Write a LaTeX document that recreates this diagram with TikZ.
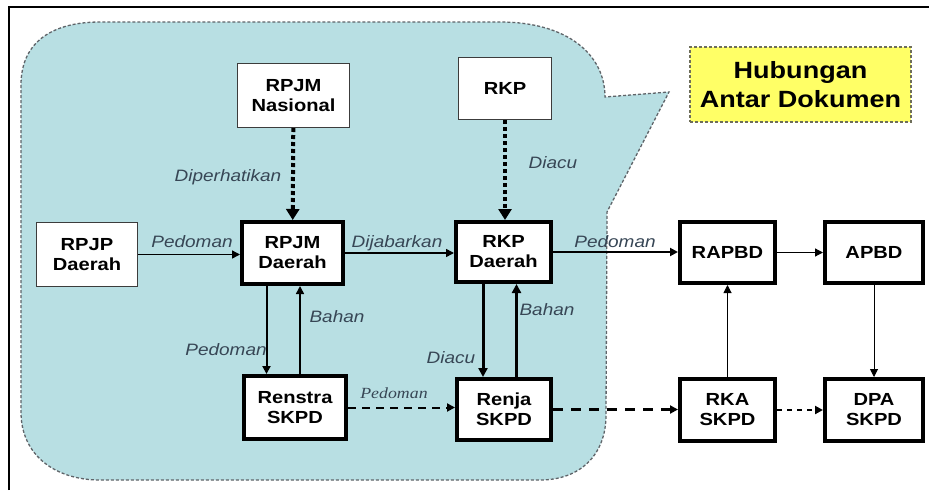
\documentclass[tikz,border=0pt]{standalone}
\usepackage{fontspec}
\setmainfont{Liberation Sans}[FakeStretch=1.15]
\newfontface\serifit{Liberation Serif Italic}[FakeStretch=1.15]
\usetikzlibrary{arrows.meta}
\definecolor{calloutfill}{RGB}{184,223,227}
\definecolor{calloutline}{RGB}{95,100,105}
\definecolor{hubfill}{RGB}{255,255,102}
\definecolor{labelcol}{RGB}{55,70,85}
\definecolor{thinline}{RGB}{60,60,60}
\tikzset{
  box/.style={draw, fill=white, align=center, inner sep=0pt,
    font=\bfseries\fontsize{17.5}{20}\selectfont},
  thinbox/.style={box, draw=thinline, line width=1pt},
  thickbox/.style={box, line width=4pt},
  lbl/.style={anchor=base, inner sep=0pt, text=labelcol,
    font=\itshape\fontsize{16.5}{19}\selectfont},
  dotarrow/.style={line width=4pt, dash pattern=on 4pt off 3pt,
    -{Triangle[length=11pt,width=13pt]}},
  tipA/.style={-{Triangle[length=8pt,width=8pt]}},
  tipB/.style={-{Triangle[length=9pt,width=9pt]}},
}
\begin{document}
\begin{tikzpicture}[x=1pt,y=-1pt]
\useasboundingbox (0,0) rectangle (929,490);
\fill[white] (0,0) rectangle (929,490);
% outer frame
\draw[line width=2.5pt] (9,490) -- (9,7) -- (929,7);
% callout
\draw[calloutline, line width=1.3pt, dash pattern=on 3pt off 2pt, fill=calloutfill]
  (21,85) -- (21,412) .. controls (21,455) and (55,480) .. (100,480)
  -- (540,480) .. controls (580,480) and (606,455) .. (606,415)
  -- (607,212) -- (669,92) -- (605,97)
  .. controls (605,55) and (568,22) .. (500,22)
  -- (100,22) .. controls (55,22) and (21,40) .. (21,85) -- cycle;
% title box
\node[draw={rgb,255:red,110;green,110;blue,90}, line width=1.5pt, dash pattern=on 3pt off 2pt,
  fill=hubfill, minimum width=221pt, minimum height=75pt, inner sep=0pt, align=center,
  font=\bfseries\fontsize{23.5}{29}\selectfont] (hub) at (800.5,84.5) {Hubungan\\Antar Dokumen};
% boxes
\node[thinbox, minimum width=112pt, minimum height=64pt] (rpjmn) at (293.5,95.5) {RPJM\\Nasional};
\node[thinbox, minimum width=93pt, minimum height=62pt] (rkp) at (505,88.5) {RKP};
\node[thinbox, minimum width=101pt, minimum height=64pt] (rpjp) at (87,254.5) {RPJP\\Daerah};
\node[thickbox, minimum width=101pt, minimum height=62pt] (rpjmd) at (292.5,253) {RPJM\\Daerah};
\node[thickbox, minimum width=95pt, minimum height=60pt] (rkpd) at (503.5,252) {RKP\\Daerah};
\node[thickbox, minimum width=95pt, minimum height=61pt] (rapbd) at (727.5,252.5) {RAPBD};
\node[thickbox, minimum width=98pt, minimum height=61pt] (apbd) at (874,252.5) {APBD};
\node[thickbox, minimum width=102pt, minimum height=63pt] (renstra) at (295,407.5) {Renstra\\SKPD};
\node[thickbox, minimum width=94pt, minimum height=61pt] (renja) at (504,409.5) {Renja\\SKPD};
\node[thickbox, minimum width=95pt, minimum height=62pt] (rka) at (727.5,410) {RKA\\SKPD};
\node[thickbox, minimum width=98pt, minimum height=62pt] (dpa) at (874,410) {DPA\\SKPD};
% dotted arrows
\draw[dotarrow] (rpjmn) -- (rpjmd);
\draw[dotarrow] (rkp) -- (rkp |- rkpd.north);
% horizontal solid arrows
\draw[line width=1.5pt, tipA] (rpjp.east) -- (rpjp.east -| rpjmd.west);
\draw[line width=1.5pt, tipA] (rpjmd.east) -- (rpjmd.east -| rkpd.west);
\draw[line width=2pt, tipA] (rkpd.east) -- (rkpd.east -| rapbd.west);
\draw[line width=1.2pt, tipA] (rapbd) -- (apbd);
% vertical arrows
\draw[line width=2pt, tipA] ([xshift=-26pt]rpjmd.south) -- ([xshift=-26pt]rpjmd.south |- renstra.north);
\draw[line width=1.5pt, tipA] ([xshift=7.5pt]rpjmd.south |- renstra.north) -- ([xshift=7.5pt]rpjmd.south);
\draw[line width=3pt, tipB] ([xshift=-20.5pt]rkpd.south) -- ([xshift=-20.5pt]rkpd.south |- renja.north);
\draw[line width=3pt, tipB] ([xshift=13pt]rkpd.south |- renja.north) -- ([xshift=13pt]rkpd.south);
\draw[line width=1pt, tipA] (rka) -- (rapbd);
\draw[line width=1pt, tipA] (apbd) -- (dpa);
% dashed arrows
\draw[line width=2pt, dash pattern=on 8pt off 6pt, tipA] (renstra.east) -- (renstra.east -| renja.west);
\draw[line width=3pt, dash pattern=on 10pt off 8pt, tipA] (renja.east) -- (renja.east -| rka.west);
\draw[line width=2pt, dash pattern=on 5pt off 5pt, tipA] (rka.east) -- (rka.east -| dpa.west);
% labels
\node[lbl] (l1) at (228,181) {Diperhatikan};
\node[lbl] (l2) at (553,168) {Diacu};
\node[lbl] (l3) at (192,247) {Pedoman};
\node[lbl] (l4) at (397,247) {Dijabarkan};
\node[lbl] (l5) at (615,247) {Pedoman};
\node[lbl] (l6) at (226,355) {Pedoman};
\node[lbl] (l7) at (337,322) {Bahan};
\node[lbl] (l8) at (451,363) {Diacu};
\node[lbl] (l9) at (547,315) {Bahan};
\node[lbl, font=\serifit\fontsize{15.5}{18}\selectfont] (l10) at (394,398) {Pedoman};
\end{tikzpicture}
\end{document}
